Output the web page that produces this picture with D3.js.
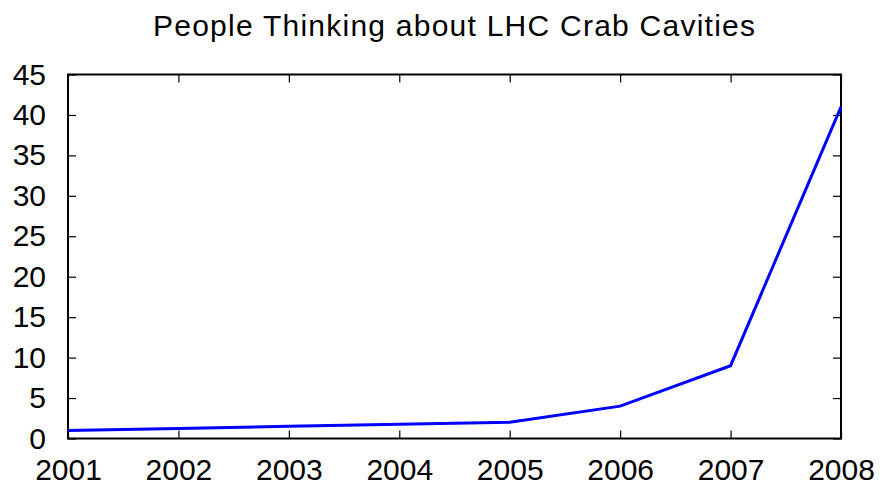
<!DOCTYPE html>
<html>
<head>
<meta charset="utf-8">
<script src="https://cdn.jsdelivr.net/npm/d3@7"></script>
<style>
  body { margin: 0; background: #fff; }
  svg { display: block; font-family: "Liberation Sans", Arial, sans-serif; }
</style>
</head>
<body>
<script>
// data
var years = [2001, 2002, 2003, 2004, 2005, 2006, 2007, 2008];
var people = [1, 1.25, 1.5, 1.75, 2, 4, 9, 41];
var yTicks = [0, 5, 10, 15, 20, 25, 30, 35, 40, 45];
var title = "People Thinking about LHC Crab Cavities";

var w = 884, h = 487;
var pLeft = 68, pRight = 841, pTop = 74.5, pBottom = 438.5;

var svg = d3.select("body").append("svg")
    .attr("width", w)
    .attr("height", h);

var x = d3.scaleLinear().domain([2001, 2008]).range([pLeft, pRight]);
var y = d3.scaleLinear().domain([0, 45]).range([pBottom, pTop]);

// title
svg.append("text")
    .attr("x", 153)
    .attr("y", 36)
    .attr("textLength", 602)
    .attr("lengthAdjust", "spacing")
    .style("font-size", "30px")
    .text(title);

// ticks: gnuplot-style, pointing inward on all four sides
var tl = 8;
var xAxisB = d3.axisBottom(x).tickValues(years).tickSize(-tl).tickFormat(d3.format("d")).tickPadding(20);
var xAxisT = d3.axisTop(x).tickValues(years).tickSize(-tl).tickFormat("");
var yAxisL = d3.axisLeft(y).tickValues(yTicks).tickSize(-tl).tickPadding(22);
var yAxisR = d3.axisRight(y).tickValues(yTicks).tickSize(-tl).tickFormat("");

function styleAxis(g) {
  g.select(".domain").remove();
  g.selectAll(".tick line").attr("stroke", "#000").attr("stroke-width", 1.2);
  g.selectAll(".tick text").attr("fill", "#000").style("font-size", "30px")
    .style("font-family", "'Liberation Sans', Arial, sans-serif");
}

svg.append("g").attr("transform", "translate(0," + pBottom + ")").call(xAxisB).call(styleAxis)
  .selectAll(".tick text").attr("dy", "0.71em");
svg.append("g").attr("transform", "translate(0," + pTop + ")").call(xAxisT).call(styleAxis);
svg.append("g").attr("transform", "translate(" + pLeft + ",0)").call(yAxisL).call(styleAxis);
svg.append("g").attr("transform", "translate(" + pRight + ",0)").call(yAxisR).call(styleAxis);

// frame
svg.append("rect")
    .attr("x", pLeft).attr("y", pTop)
    .attr("width", pRight - pLeft).attr("height", pBottom - pTop)
    .attr("fill", "none")
    .attr("stroke", "#000")
    .attr("stroke-width", 2);

// series
var line = d3.line()
    .x(function(d, i) { return x(years[i]); })
    .y(function(d) { return y(d); });

svg.append("path")
    .datum(people)
    .attr("fill", "none")
    .attr("stroke", "#0000ff")
    .attr("stroke-width", 3)
    .attr("d", line);
</script>
</body>
</html>
